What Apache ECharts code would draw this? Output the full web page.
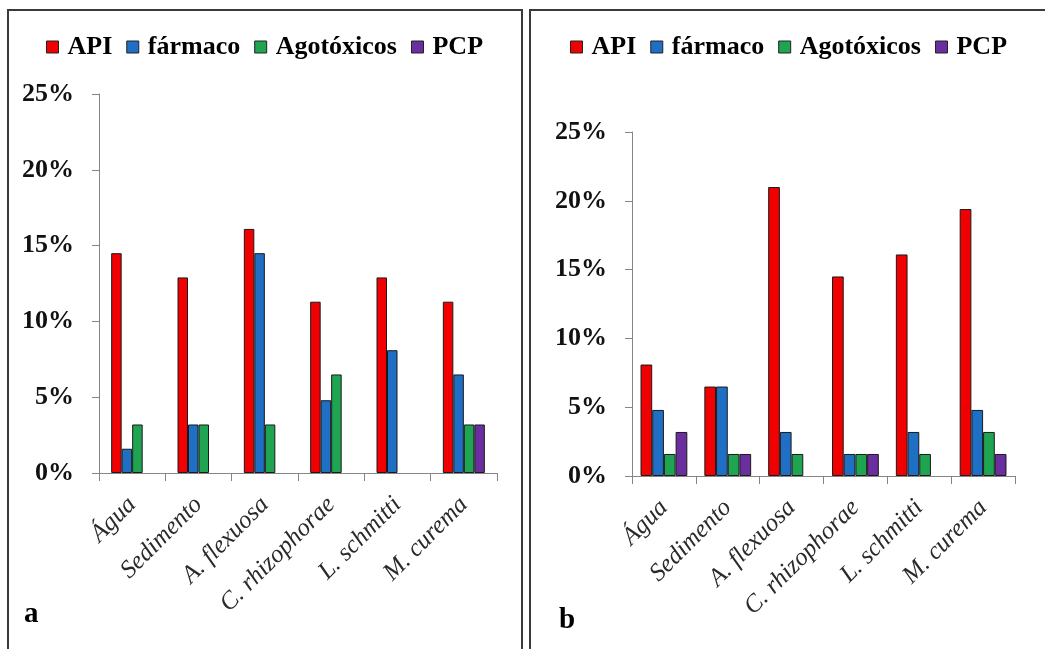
<!DOCTYPE html>
<html>
<head>
<meta charset="utf-8">
<script src="https://cdn.jsdelivr.net/npm/echarts@6/dist/echarts.min.js"></script>
<style>
html,body{margin:0;padding:0;background:#fff;}
#c{width:1045px;height:649px;}
</style>
</head>
<body>
<div id="c"></div>
<script>
const categories = ['Água', 'Sedimento', 'A. flexuosa', 'C. rhizophorae', 'L. schmitti', 'M. curema'];
const seriesNames = ['API', 'fármaco', 'Agotóxicos', 'PCP'];
const colors = ['#F00000', '#1F6FC5', '#1FA452', '#6B2E9E'];
// panel a
const aAPI = [14.5, 12.9, 16.1, 11.3, 12.9, 11.3];
const aFarmaco = [1.6, 3.2, 14.5, 4.8, 8.1, 6.5];
const aAgro = [3.2, 3.2, 3.2, 6.5, 0, 3.2];
const aPCP = [0, 0, 0, 0, 0, 3.2];
// panel b
const bAPI = [8.1, 6.5, 21.0, 14.5, 16.1, 19.4];
const bFarmaco = [4.8, 6.5, 3.2, 1.6, 3.2, 4.8];
const bAgro = [1.6, 1.6, 1.6, 1.6, 1.6, 3.2];
const bPCP = [3.2, 1.6, 0, 1.6, 0, 1.6];
const yMin = 0, yMax = 25, yStep = 5;

const FONT = '"Liberation Serif", "Times New Roman", serif';
const chart = echarts.init(document.getElementById('c'));

function mkSeries(arrs, gi, bw) {
  return arrs.map((arr, i) => ({
    name: seriesNames[i],
    type: 'bar',
    xAxisIndex: gi,
    yAxisIndex: gi,
    barWidth: bw,
    barGap: '0%',
    data: arr.map(v => (v === 0 ? null : v)),
    itemStyle: { color: colors[i], borderColor: '#1a1a1a', borderWidth: 1 },
    emphasis: { disabled: true }
  }));
}

function mkX(gi) {
  return {
    type: 'category', gridIndex: gi, data: categories,
    axisLine: { lineStyle: { color: '#868686', width: 1 } },
    axisTick: { show: true, length: 8, lineStyle: { color: '#868686' } },
    axisLabel: {
      rotate: 45, interval: 0, margin: 28,
      fontFamily: FONT, fontStyle: 'italic', fontSize: 25, color: '#2a2a2a'
    }
  };
}
function mkY(gi) {
  return {
    type: 'value', gridIndex: gi, min: yMin, max: yMax, interval: yStep,
    axisLine: { show: true, lineStyle: { color: '#868686', width: 1 } },
    axisTick: { show: true, length: 7, lineStyle: { color: '#868686' } },
    splitLine: { show: false },
    axisLabel: {
      formatter: '{value}%', margin: 25,
      fontFamily: FONT, fontWeight: 'bold', fontSize: 26, color: '#111'
    }
  };
}
function mkLegend(left) {
  return {
    left: left, top: 29,
    data: seriesNames,
    icon: 'rect', itemWidth: 12, itemHeight: 12, itemGap: 14,
    itemStyle: { borderColor: '#222', borderWidth: 1 },
    textStyle: { fontFamily: FONT, fontWeight: 'bold', fontSize: 26, color: '#000', padding: [0, 0, 0, 4] },
    selectedMode: false
  };
}

chart.setOption({
  animation: false,
  backgroundColor: '#fff',
  legend: [mkLegend(41), mkLegend(565)],
  grid: [
    { left: 99, top: 94, right: 548, bottom: 176 },
    { left: 632, top: 132, right: 30, bottom: 173 }
  ],
  xAxis: [mkX(0), mkX(1)],
  yAxis: [mkY(0), mkY(1)],
  series: mkSeries([aAPI, aFarmaco, aAgro, aPCP], 0, 10.5).concat(
          mkSeries([bAPI, bFarmaco, bAgro, bPCP], 1, 11.7)),
  graphic: [
    { type: 'rect', shape: { x: 8, y: 10, width: 514, height: 700 }, style: { fill: 'none', stroke: '#3a3a3a', lineWidth: 2 }, silent: true },
    { type: 'rect', shape: { x: 530, y: 10, width: 600, height: 700 }, style: { fill: 'none', stroke: '#3a3a3a', lineWidth: 2 }, silent: true },
    { type: 'text', left: 24, top: 600, style: { text: 'a', font: 'bold 29px ' + FONT, fill: '#000' } },
    { type: 'text', left: 559, top: 606, style: { text: 'b', font: 'bold 29px ' + FONT, fill: '#000' } }
  ]
});
</script>
</body>
</html>
